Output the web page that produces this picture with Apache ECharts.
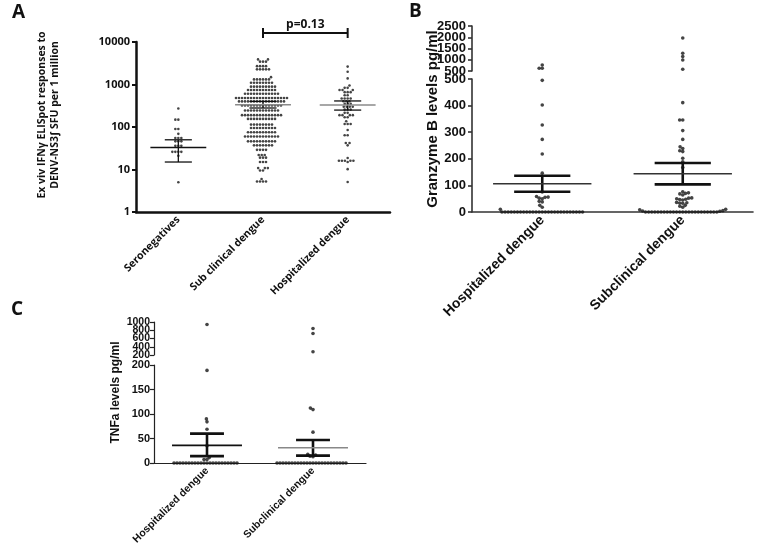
<!DOCTYPE html>
<html><head><meta charset="utf-8">
<script src="https://cdn.jsdelivr.net/npm/echarts@6/dist/echarts.min.js"></script>
<style>html,body{margin:0;padding:0;background:#fff}#c{width:760px;height:552px}</style>
</head><body><div id="c"></div>
<script>
// ================= DATA =================
// Panel A (log scale, SFU per million)
const catsA = ['Seronegatives', 'Sub clinical dengue', 'Hospitalized dengue'];
const seroA = [272, 149, 149, 90, 90, 69, 55, 55, 55, 46, 46, 46, 36, 36, 36, 26, 26, 26, 26, 21, 5];
const subA = [3900, 3900, 3450, 3450, 3450, 2700, 2700, 2700, 2700, 2270, 2270, 2270, 2270, 2270, 1490,
  1320, 1320, 1320, 1320, 1320, 1320,
  1100, 1100, 1100, 1100, 1100, 1100, 1100, 1100,
  890, 890, 890, 890, 890, 890, 890, 890, 890,
  740, 740, 740, 740, 740, 740, 740, 740, 740, 740,
  605, 605, 605, 605, 605, 605, 605, 605, 605, 605, 605, 605,
  480, 480, 480, 480, 480, 480, 480, 480, 480, 480, 480, 480, 480, 480, 480, 480, 480, 480,
  400, 400, 400, 400, 400, 400, 400, 400, 400, 400, 400, 400, 400, 400, 400, 400,
  320, 320, 320, 320, 320, 320, 320, 320, 320, 320, 320, 320, 320, 320,
  245, 245, 245, 245, 245, 245, 245, 245, 245, 245, 245, 245,
  190, 190, 190, 190, 190, 190, 190, 190, 190, 190, 190, 190, 190, 190,
  155, 155, 155, 155, 155, 155, 155, 155, 155, 155,
  114, 114, 114, 114, 114, 114, 114, 114,
  95, 95, 95, 95, 95, 95, 95, 95, 95,
  75, 75, 75, 75, 75, 75, 75, 75, 75, 75,
  60, 60, 60, 60, 60, 60, 60, 60, 60, 60, 60, 60,
  46, 46, 46, 46, 46, 46, 46, 46, 46, 46,
  37, 37, 37, 37, 37, 37, 37,
  29, 29, 29, 29, 22, 22, 22, 19, 19, 19, 15, 15, 15, 10.8, 10.8, 10.8, 9.5, 9.5, 6, 5.2, 5.2, 5.2, 5.2];
const hospA = [2640, 2000, 1390, 950, 835, 835, 740, 740, 740, 660, 660, 660, 560, 560, 470, 470, 470, 470,
  405, 405, 405, 350, 350, 350, 300, 300, 300, 300, 257, 257, 257, 215, 215, 190, 190, 190, 190, 170, 170,
  136, 118, 118, 118, 85, 64, 64, 42, 42, 37, 18.6, 16, 16, 16, 16, 16, 15, 10.2, 5.1];
const meanA = [33, 335, 330];
const upA = [50, 400, 410];
const loA = [15, 280, 250];
const pLabelA = 'p=0.13';

// Panel B (Granzyme B, broken axis)
const catsB = ['Hospitalized dengue', 'Subclinical dengue'];
const hospB = [770, 620, 620, 495, 402, 327, 273, 218, 146, 75, 58, 55, 56, 52, 50, 40, 38, 25, 18, 10,
  0, 0, 0, 0, 0, 0, 0, 0, 0, 0, 0, 0, 0, 0, 0, 0, 0, 0, 0, 0, 0, 0, 0, 0, 0, 0, 0];
const subB = [1970, 1290, 1140, 990, 575, 411, 346, 346, 306, 273, 245, 239, 230, 227, 202, 189, 167,
  76, 72, 70, 68, 64, 53, 52, 50, 48, 47, 45, 36, 35, 34, 33, 25, 22, 18, 10, 8, 5, 4, 3,
  0, 0, 0, 0, 0, 0, 0, 0, 0, 0, 0, 0, 0, 0, 0, 0, 0, 0, 0, 0, 0, 0, 0, 0];
const meanB = [106, 144];
const upB = [136, 184];
const loB = [76, 104];
const ticksBlow = [0, 100, 200, 300, 400, 500];
const ticksBup = [500, 1000, 1500, 2000, 2500];

// Panel C (TNFa, broken axis)
const catsC = ['Hospitalized dengue', 'Subclinical dengue'];
const hospC = [940, 189, 90, 84, 69, 35, 11, 7, 7,
  0, 0, 0, 0, 0, 0, 0, 0, 0, 0, 0, 0, 0, 0, 0, 0, 0, 0, 0, 0, 0, 0];
const subC = [841, 720, 280, 112, 109, 63, 18, 16, 14, 13,
  0, 0, 0, 0, 0, 0, 0, 0, 0, 0, 0, 0, 0, 0, 0, 0, 0, 0, 0, 0, 0, 0, 0, 0];
const meanC = [36, 31];
const upC = [60, 47];
const loC = [14, 15];
const ticksClow = [0, 50, 100, 150, 200];
const ticksCup = [200, 400, 600, 800, 1000];

const breakB = ticksBlow[ticksBlow.length - 1];
const breakC = ticksClow[ticksClow.length - 1];

// ================= CHART =================
const chart = echarts.init(document.getElementById('c'), null, {renderer: 'canvas'});
const FA = 'Open Sans', FB = 'Liberation Sans';

const gA = {left: 136, top: 42, width: 254, height: 170};
const gBl = {left: 472, top: 79, width: 281, height: 133};
const gBu = {left: 472, top: 26, width: 281, height: 45};
const gBf = {left: 472, top: 26, width: 281, height: 186};
const gCl = {left: 154, top: 365, width: 212, height: 98};
const gCu = {left: 154, top: 322, width: 212, height: 33};
const gCf = {left: 154, top: 322, width: 212, height: 141};

const plain = v => String(Math.round(v));
const even = t => t.filter((v, i) => i % 2 === 0);
const odd = t => t.filter((v, i) => i % 2 === 1);

function hiddenX(grid, n) { return {type: 'value', gridIndex: grid, min: -0.5, max: n - 0.5, show: false}; }
function catX(grid, cats, style) {
  return {type: 'category', gridIndex: grid, data: cats,
    axisLine: {onZero: false, lineStyle: {color: style.c, width: style.w}},
    axisTick: {alignWithLabel: true, length: 4, lineStyle: {color: style.c, width: style.w}},
    axisLabel: {rotate: 45, interval: 0, margin: 6, color: '#111', fontWeight: 'bold', fontSize: style.fs, fontFamily: style.ff},
    splitLine: {show: false}};
}
// value axis showing the given subset of tick values (range = full tick list)
function valY(grid, ticks, shown, style, showLine) {
  return {type: 'value', gridIndex: grid, position: 'left', offset: 0,
    min: ticks[0], max: ticks[ticks.length - 1],
    axisLine: {show: showLine, onZero: false, lineStyle: {color: style.c, width: style.w}},
    axisTick: {show: true, length: 4, customValues: shown, lineStyle: {color: style.c, width: style.w}},
    axisLabel: {margin: style.m, color: '#111', fontWeight: 'bold', fontSize: style.fs, fontFamily: style.ff,
      customValues: shown, formatter: plain, showMinLabel: true, showMaxLabel: true, hideOverlap: false},
    splitLine: {show: false}};
}
function frameY(grid, name, gap, fs, ff) {
  return {type: 'value', gridIndex: grid, min: 0, max: 1, axisLine: {show: false, onZero: false}, axisTick: {show: false},
    axisLabel: {show: false}, splitLine: {show: false}, name: name, nameLocation: 'middle', nameGap: gap,
    nameTextStyle: {fontWeight: 'bold', fontSize: fs, fontFamily: ff, color: '#111'}};
}

const stB = {c: '#333', w: 1.6, fs: 13, ff: FB, m: 6};
const stBx = {c: '#333', w: 1.6, fs: 14, ff: FB};
const stC = {c: '#222', w: 1.2, fs: 11, ff: FB, m: 4};
const stCu = {c: '#222', w: 1.2, fs: 10.5, ff: FB, m: 4};
const stCx = {c: '#222', w: 1.2, fs: 10.5, ff: FB};

const xAxes = [
  catX(0, catsA, {c: '#111', w: 2.5, fs: 10.5, ff: FA}), // 0
  hiddenX(0, 3),                                         // 1
  catX(1, catsB, stBx),                                  // 2
  hiddenX(1, 2),                                         // 3
  hiddenX(2, 2),                                         // 4
  hiddenX(3, 2),                                         // 5
  catX(4, catsC, stCx),                                  // 6
  hiddenX(4, 2),                                         // 7
  hiddenX(5, 2),                                         // 8
  hiddenX(6, 2)                                          // 9
];
const yAxes = [
  {type: 'log', logBase: 10, gridIndex: 0, min: 1, max: 10000,
    axisLine: {show: true, onZero: false, lineStyle: {color: '#111', width: 2.5}},
    axisTick: {show: true, length: 4, lineStyle: {color: '#111', width: 2}},
    axisLabel: {margin: 6, color: '#111', fontWeight: 'bold', fontSize: 11, fontFamily: FA,
      formatter: plain, showMinLabel: true, showMaxLabel: true},
    splitLine: {show: false},
    name: 'Ex viv IFNγ ELISpot responses to\nDENV-NS3∫ SFU per 1 million', nameLocation: 'middle', nameGap: 74,
    nameTextStyle: {fontWeight: 'bold', fontSize: 10.5, lineHeight: 13, fontFamily: FA, color: '#111', padding: [0, 0, 0, 24]}},
  valY(1, ticksBlow, ticksBlow, stB, true),          // 1
  valY(2, ticksBup, even(ticksBup), stB, true),      // 2
  frameY(3, 'Granzyme B levels pg/ml', 32, 15, FB),  // 3
  valY(4, ticksClow, ticksClow, stC, true),          // 4
  valY(5, ticksCup, even(ticksCup), stCu, true),     // 5
  frameY(6, 'TNFa levels pg/ml', 32, 12, FB),        // 6
  valY(2, ticksBup, odd(ticksBup), stB, false),      // 7
  valY(5, ticksCup, odd(ticksCup), stCu, false)      // 8
];

function errSeries(xi, yi, means, ups, los, cfg) {
  const data = means.map((m, i) => [i, m, ups[i], los[i]]);
  return {type: 'custom', xAxisIndex: xi, yAxisIndex: yi, z: 5, clip: false, data: data,
    renderItem: function (params, api) {
      const i = api.value(0), m = api.value(1), u = api.value(2), l = api.value(3);
      const L = (a, b, col, w) => ({type: 'line', shape: {x1: a[0], y1: a[1], x2: b[0], y2: b[1]}, style: {stroke: col, lineWidth: w}});
      return {type: 'group', children: [
        L(api.coord([i, u]), api.coord([i, l]), cfg.barColor, cfg.vW),
        L(api.coord([i - cfg.hwB, u]), api.coord([i + cfg.hwB, u]), cfg.barColor, cfg.barW),
        L(api.coord([i - cfg.hwB, l]), api.coord([i + cfg.hwB, l]), cfg.barColor, cfg.barW),
        L(api.coord([i - cfg.hwM, m]), api.coord([i + cfg.hwM, m]), cfg.meanColors[params.dataIndex], cfg.meanW)
      ]};
    }};
}

chart.setOption({
  animation: false,
  backgroundColor: '#fff',
  grid: [gA, gBl, gBu, gBf, gCl, gCu, gCf].map(g => Object.assign({containLabel: false}, g)),
  xAxis: xAxes,
  yAxis: yAxes,
  series: []
});

// beeswarm layout in pixel space
function swarm(vals, toPy, d) {
  const order = vals.map((v, k) => k).sort((a, b) => vals[a] - vals[b]);
  const placed = [], off = new Array(vals.length);
  for (const k of order) {
    const y = toPy(vals[k]);
    const iv = [];
    for (const p of placed) {
      const dy = Math.abs(p.y - y);
      if (dy < d) { const dx = Math.sqrt(d * d - dy * dy); iv.push([p.x - dx, p.x + dx]); }
    }
    const cands = [0];
    iv.forEach(a => cands.push(a[0], a[1]));
    cands.sort((a, b) => Math.abs(a) - Math.abs(b));
    let x = 0;
    for (const c of cands) {
      if (iv.every(a => c <= a[0] + 1e-6 || c >= a[1] - 1e-6)) { x = c; break; }
    }
    placed.push({x: x, y: y});
    off[k] = x;
  }
  return off;
}
function swarmData(groups, xi, yi, d, filt) {
  const pxPerUnit = chart.convertToPixel({xAxisIndex: xi}, 1) - chart.convertToPixel({xAxisIndex: xi}, 0);
  const out = [];
  groups.forEach((g, gi) => {
    const vals = g.filter(filt);
    const off = swarm(vals, v => chart.convertToPixel({yAxisIndex: yi}, v), d);
    vals.forEach((v, k) => out.push([gi + off[k] / pxPerUnit, v]));
  });
  return out;
}
function dots(xi, yi, data, size) {
  return {type: 'scatter', xAxisIndex: xi, yAxisIndex: yi, data: data, symbol: 'circle', symbolSize: size,
    itemStyle: {color: '#151515'}, clip: false, silent: true, z: 3};
}

const all = () => true;
const series = [
  dots(1, 0, swarmData([seroA, subA, hospA], 1, 0, 3.0, all), 2.6),
  dots(3, 1, swarmData([hospB, subB], 3, 1, 3.1, v => v <= breakB), 3.6),
  dots(4, 2, swarmData([hospB, subB], 4, 2, 3.1, v => v > breakB), 3.6),
  dots(7, 4, swarmData([hospC, subC], 7, 4, 3.0, v => v <= breakC), 3.6),
  dots(8, 5, swarmData([hospC, subC], 8, 5, 3.0, v => v > breakC), 3.6),
  errSeries(1, 0, meanA, upA, loA, {hwM: 0.33, hwB: 0.16, barColor: '#111', barW: 1.3, vW: 1.3, meanW: 1.6, meanColors: ['#111', '#8a8a8a', '#8a8a8a']}),
  errSeries(3, 1, meanB, upB, loB, {hwM: 0.35, hwB: 0.2, barColor: '#111', barW: 2.6, vW: 2.6, meanW: 1.6, meanColors: ['#333', '#333']}),
  errSeries(7, 4, meanC, upC, loC, {hwM: 0.33, hwB: 0.16, barColor: '#111', barW: 2.6, vW: 2.6, meanW: 1.6, meanColors: ['#111', '#888']})
];

// p-value bracket between groups 2 and 3 of panel A
const bx1 = chart.convertToPixel({xAxisIndex: 1}, 1);
const bx2 = chart.convertToPixel({xAxisIndex: 1}, 2);
const by = gA.top - 9;
const graphic = [
  {type: 'text', left: 12, top: 3, style: {text: 'A', font: 'bold 19px "Open Sans"', fill: '#111'}},
  {type: 'text', left: 409, top: 2, style: {text: 'B', font: 'bold 19px "Open Sans"', fill: '#111'}},
  {type: 'text', left: 11, top: 300, style: {text: 'C', font: 'bold 19px "Open Sans"', fill: '#111'}},
  {type: 'line', shape: {x1: bx1, y1: by, x2: bx2, y2: by}, style: {stroke: '#111', lineWidth: 2}},
  {type: 'line', shape: {x1: bx1, y1: by - 5, x2: bx1, y2: by + 5}, style: {stroke: '#111', lineWidth: 2}},
  {type: 'line', shape: {x1: bx2, y1: by - 5, x2: bx2, y2: by + 5}, style: {stroke: '#111', lineWidth: 2}},
  {type: 'text', x: (bx1 + bx2) / 2, y: by - 2, style: {text: pLabelA, font: 'bold 12px "Open Sans"', fill: '#111', textAlign: 'center', textVerticalAlign: 'bottom'}}
];

chart.setOption({series: series, graphic: graphic});
</script>
</body></html>
